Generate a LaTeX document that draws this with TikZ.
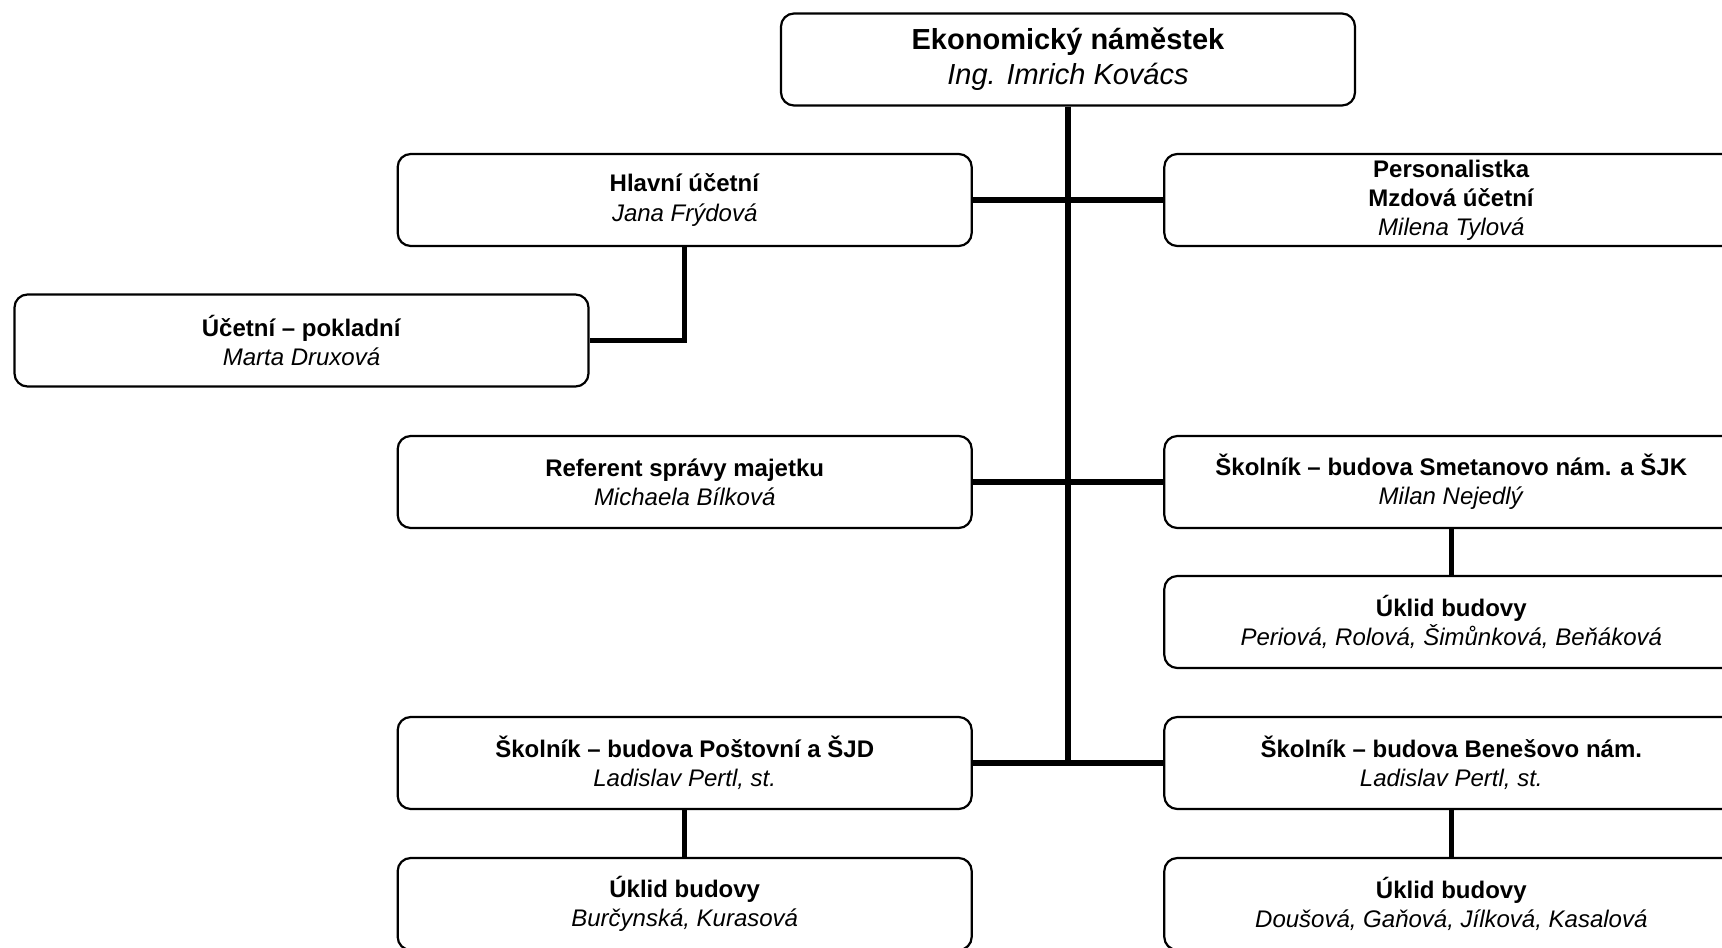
\documentclass[tikz,border=0pt]{standalone}
\usepackage{fontspec}
\setmainfont{Liberation Sans}
\begin{document}
\begin{tikzpicture}[x=0.5pt,y=-0.5pt,
  box/.style={draw, line width=1.1pt, rounded corners=6.5pt, fill=white,
    minimum width=287pt, minimum height=46pt, align=center, inner sep=0pt,
    font=\fontsize{12}{14.6}\selectfont},
  topbox/.style={box, font=\fontsize{14.5}{17.5}\selectfont},
  link/.style={line width=2.7pt}]
\useasboundingbox (0,0) rectangle (1722,947);
\clip (0,0) rectangle (1722,947);
\node[topbox] (top) at (1068,59.5) {\textbf{Ekonomický náměstek}\\\textit{Ing. Imrich Kovács}};
\node[box] (hu) at (684.7,200) {\textbf{Hlavní účetní}\\\textit{Jana Frýdová}};
\node[box] (pers) at (1451.3,200) {\textbf{Personalistka}\\\textbf{Mzdová účetní}\\\textit{Milena Tylová}};
\node[box] (marta) at (301.5,340.5) {\textbf{Účetní – pokladní}\\\textit{Marta Druxová}};
\node[box] (ref) at (684.7,482) {\textbf{Referent správy majetku}\\\textit{Michaela Bílková}};
\node[box] (skolS) at (1451.3,482) {\textbf{Školník – budova Smetanovo nám. a ŠJK}\\\textit{Milan Nejedlý}};
\node[box] (uklS) at (1451.3,622) {\textbf{Úklid budovy}\\\textit{Periová, Rolová, Šimůnková, Beňáková}};
\node[box] (skolP) at (684.7,763) {\textbf{Školník – budova Poštovní a ŠJD}\\\textit{Ladislav Pertl, st.}};
\node[box] (skolB) at (1451.3,763) {\textbf{Školník – budova Benešovo nám.}\\\textit{Ladislav Pertl, st.}};
\node[box] (uklP) at (684.7,904) {\textbf{Úklid budovy}\\\textit{Burčynská, Kurasová}};
\node[box] (uklB) at (1451.3,904) {\textbf{Úklid budovy}\\\textit{Doušová, Gaňová, Jílková, Kasalová}};
\draw[link] (top.south) -- (top.south |- skolP.east);
\draw[link] (hu.east) -- (pers.west);
\draw[link] (ref.east) -- (skolS.west);
\draw[link] (skolP.east) -- (skolB.west);
\draw[link] (hu.south) |- (marta.east);
\draw[link] (skolS.south) -- (uklS.north);
\draw[link] (skolP.south) -- (uklP.north);
\draw[link] (skolB.south) -- (uklB.north);
\end{tikzpicture}
\end{document}
